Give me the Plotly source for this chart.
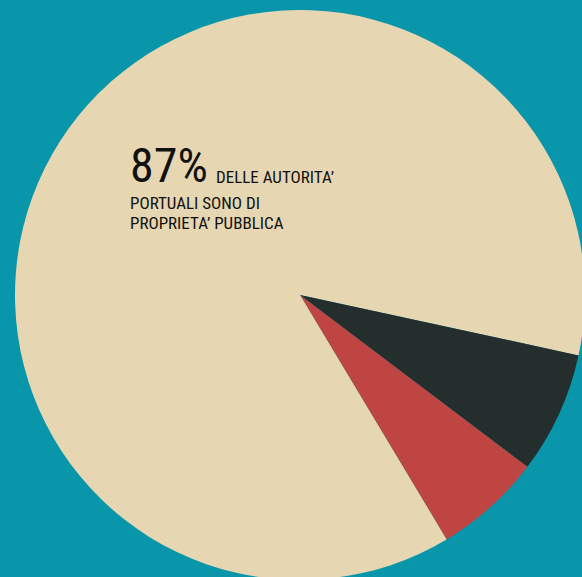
import plotly.graph_objects as go

# Port authority ownership shares (percent), listed clockwise from 3 o'clock
categories = ["Pubblica (a)", "Privata", "Mista", "Pubblica (b)"]
shares = [3.4, 6.9, 6.1, 83.6]
colors = ["#E6D7B2", "#232E2D", "#BE4542", "#E6D7B2"]

headline = "87%"
caption_lines = ["DELLE AUTORITA’", "PORTUALI SONO DI", "PROPRIETA’ PUBBLICA"]

W, H = 590, 590
BG = "#0995AA"
INK = "#111111"
FONT = "Liberation Sans Narrow, Arial Narrow, Roboto Condensed, sans-serif"


def px(x):
    return x / W


def py(y):
    return 1 - y / H


fig = go.Figure(
    go.Pie(
        labels=categories,
        values=shares,
        marker=dict(colors=colors, line=dict(width=0)),
        sort=False,
        direction="clockwise",
        rotation=90,
        textinfo="none",
        hoverinfo="none",
        showlegend=False,
        domain=dict(x=[px(15), px(585)], y=[py(580), py(10)]),
    )
)

fig.add_annotation(
    x=px(128), y=py(135), xref="paper", yref="paper",
    xanchor="left", yanchor="top", showarrow=False,
    text=headline, font=dict(family=FONT, size=48, color=INK),
)

# caption: first line sits beside the headline, the rest wraps below it
caption_pos = [(214, 165), (128, 191.5), (128, 211)]
for line, (x, y) in zip(caption_lines, caption_pos):
    fig.add_annotation(
        x=px(x), y=py(y), xref="paper", yref="paper",
        xanchor="left", yanchor="top", showarrow=False,
        text=line, font=dict(family=FONT, size=17, color=INK),
    )

fig.update_layout(
    width=W, height=H, autosize=False,
    margin=dict(l=0, r=0, t=0, b=0),
    paper_bgcolor=BG, plot_bgcolor=BG,
)

fig.write_html(
    "out.html",
    config={"displayModeBar": False},
    post_script="document.documentElement.style.overflow='hidden';"
                "document.body.style.overflow='hidden';"
                "document.body.style.margin='0';"
                "document.body.style.background='" + BG + "';",
)
